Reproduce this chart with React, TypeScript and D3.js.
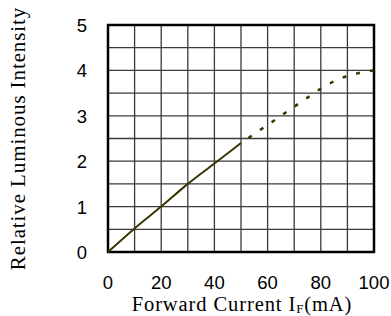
import * as d3 from 'd3';
import React, { useEffect, useRef } from 'react';

// forward current (mA) vs relative luminous intensity
const solidCurrent = [0, 10, 20, 30, 40, 50];
const solidIntensity = [0, 0.52, 1.0, 1.5, 1.95, 2.4];
const dashCurrent = [50, 55, 60, 65, 70, 75, 80, 85, 90, 95, 100];
const dashIntensity = [2.4, 2.6, 2.8, 3.0, 3.2, 3.4, 3.6, 3.76, 3.88, 3.95, 4.0];
const xTicks = [0, 20, 40, 60, 80, 100];
const yTicks = [0, 1, 2, 3, 4, 5];

const margin = {top: 25, right: 17, bottom: 64, left: 108};
const W = 391;
const H = 316;
const dim = {w: W - margin.left - margin.right, h: H - margin.top - margin.bottom};
const lineColor = '#3b3600';
const serif = '"Liberation Serif", "Times New Roman", serif';
const sans = '"Liberation Sans", Arial, sans-serif';

export default function App() {
  const ref = useRef<SVGSVGElement>(null);

  useEffect(() => {
    const svg = d3.select(ref.current);
    svg.selectAll('*').remove();
    const x = d3.scaleLinear().domain([0, 100]).range([0, dim.w]);
    const y = d3.scaleLinear().domain([0, 5]).range([dim.h, 0]);
    const g = svg.append('g').attr('transform', `translate(${margin.left}, ${margin.top})`);

    // grid every 10 mA / 0.5
    g.selectAll('line.vg')
      .data(d3.range(10, 100, 10))
      .enter()
      .append('line')
      .attr('x1', d => x(d)).attr('x2', d => x(d))
      .attr('y1', 0).attr('y2', dim.h)
      .attr('stroke', '#3a3a3a').attr('stroke-width', 1.3);
    g.selectAll('line.hg')
      .data(d3.range(0.5, 5, 0.5))
      .enter()
      .append('line')
      .attr('y1', d => y(d)).attr('y2', d => y(d))
      .attr('x1', 0).attr('x2', dim.w)
      .attr('stroke', '#3a3a3a').attr('stroke-width', 1.3);
    g.append('rect')
      .attr('width', dim.w).attr('height', dim.h)
      .attr('fill', 'none').attr('stroke', '#000').attr('stroke-width', 2.5);

    const line = d3.line<[number, number]>()
      .x(d => x(d[0]))
      .y(d => y(d[1]))
      .curve(d3.curveMonotoneX);
    g.append('path')
      .datum(solidCurrent.map((c, i) => [c, solidIntensity[i]] as [number, number]))
      .attr('d', line)
      .attr('fill', 'none').attr('stroke', lineColor).attr('stroke-width', 2);
    g.append('path')
      .datum(dashCurrent.map((c, i) => [c, dashIntensity[i]] as [number, number]))
      .attr('d', line)
      .attr('fill', 'none').attr('stroke', lineColor).attr('stroke-width', 2.5)
      .attr('stroke-dasharray', '4,10').attr('stroke-dashoffset', 5);

    g.selectAll('text.xt')
      .data(xTicks)
      .enter()
      .append('text')
      .attr('x', d => x(d)).attr('y', dim.h + 36.5)
      .attr('text-anchor', 'middle')
      .style('font', `18.5px ${sans}`)
      .text(d => d);
    g.selectAll('text.yt')
      .data(yTicks)
      .enter()
      .append('text')
      .attr('x', -21).attr('y', d => y(d) + 7)
      .attr('text-anchor', 'end')
      .style('font', `18.5px ${sans}`)
      .text(d => d);

    const xt = g.append('text')
      .attr('x', dim.w / 2 + 1).attr('y', dim.h + 58.5)
      .attr('text-anchor', 'middle')
      .style('font', `20.5px ${serif}`)
      .style('letter-spacing', '0.9px');
    xt.append('tspan').text('Forward Current I');
    xt.append('tspan').attr('dy', 2.5).style('font-size', '13px').text('F');
    xt.append('tspan').attr('dy', -2.5).text('(mA)');

    g.append('text')
      .attr('transform', `translate(${25 - margin.left}, ${dim.h / 2}) rotate(-90)`)
      .attr('text-anchor', 'middle')
      .style('font', `21px ${serif}`)
      .style('letter-spacing', '0.9px')
      .text('Relative Luminous Intensity');
  }, []);

  return <svg ref={ref} width={W} height={H} style={{position: 'absolute', left: 0, top: 0}} />;
}
